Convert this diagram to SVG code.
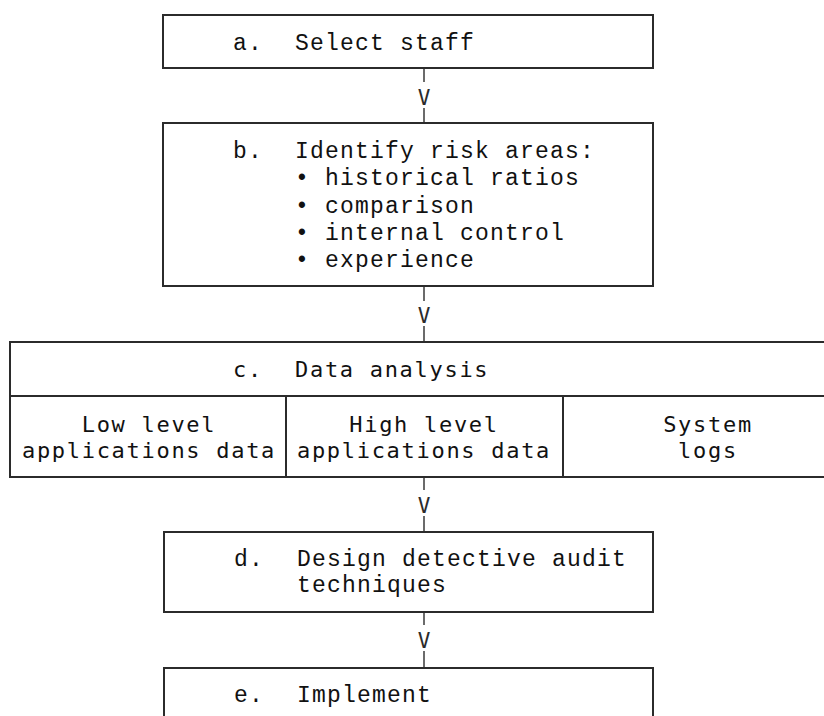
<svg xmlns="http://www.w3.org/2000/svg" width="824" height="716" viewBox="0 0 824 716">
  <style>
    .box { fill: #ffffff; stroke: #2b2b2b; stroke-width: 2; }
    .rule { stroke: #2b2b2b; stroke-width: 2; fill: none; }
    .link { stroke: #3a3a3a; stroke-width: 1.5; fill: none; }
    .t { font-family: "Liberation Mono", "DejaVu Sans Mono", monospace; font-size: 23px; letter-spacing: 1.2px; fill: #111111; }
    .s { font-family: "DejaVu Sans Mono", "Liberation Mono", monospace; font-size: 22px; letter-spacing: 1.7px; fill: #111111; }
    .mid { text-anchor: middle; }
    .arrow { font-family: "DejaVu Sans Mono", monospace; font-size: 21px; fill: #2b2b2b; text-anchor: middle; }
  </style>
  <rect width="824" height="716" fill="#ffffff"/>

  <!-- connectors: short rules with a typed V as the arrowhead -->
  <g id="connectors">
    <line class="link" x1="424" y1="68" x2="424" y2="82"/>
    <text class="arrow" x="424" y="105">V</text>
    <line class="link" x1="424" y1="108" x2="424" y2="123"/>

    <line class="link" x1="424" y1="286" x2="424" y2="301"/>
    <text class="arrow" x="424" y="323">V</text>
    <line class="link" x1="424" y1="326" x2="424" y2="342"/>

    <line class="link" x1="424" y1="477" x2="424" y2="490"/>
    <text class="arrow" x="424" y="513">V</text>
    <line class="link" x1="424" y1="516" x2="424" y2="532"/>

    <line class="link" x1="424" y1="612" x2="424" y2="625"/>
    <text class="arrow" x="424" y="648">V</text>
    <line class="link" x1="424" y1="651" x2="424" y2="668"/>
  </g>

  <!-- a. select staff -->
  <g id="node-a">
    <rect class="box" x="163" y="15" width="490" height="53"/>
    <text class="t" x="233" y="50">a.</text>
    <text class="t" x="295" y="50">Select staff</text>
  </g>

  <!-- b. risk areas -->
  <g id="node-b">
    <rect class="box" x="163" y="123" width="490" height="163"/>
    <text class="t" x="233" y="158">b.</text>
    <text class="t" x="295" y="158">Identify risk areas:</text>
    <text class="t" x="295" y="185">• historical ratios</text>
    <text class="t" x="295" y="213">• comparison</text>
    <text class="t" x="295" y="240">• internal control</text>
    <text class="t" x="295" y="267">• experience</text>
  </g>

  <!-- c. data analysis with three source columns -->
  <g id="node-c">
    <rect class="box" x="10" y="342" width="850" height="135"/>
    <line class="rule" x1="10" y1="396" x2="860" y2="396"/>
    <line class="rule" x1="286" y1="396" x2="286" y2="477"/>
    <line class="rule" x1="563" y1="396" x2="563" y2="477"/>
    <text class="s" x="233" y="377">c.</text>
    <text class="s" x="295" y="377">Data analysis</text>
    <text class="s mid" x="149" y="432">Low level</text>
    <text class="s mid" x="149" y="458">applications data</text>
    <text class="s mid" x="424" y="432">High level</text>
    <text class="s mid" x="424" y="458">applications data</text>
    <text class="s mid" x="708" y="432">System</text>
    <text class="s mid" x="708" y="458">logs</text>
  </g>

  <!-- d. detective audit techniques -->
  <g id="node-d">
    <rect class="box" x="164" y="532" width="489" height="80"/>
    <text class="t" x="234" y="566">d.</text>
    <text class="t" x="297" y="566">Design detective audit</text>
    <text class="t" x="297" y="592">techniques</text>
  </g>

  <!-- e. implement (runs past the bottom edge) -->
  <g id="node-e">
    <rect class="box" x="164" y="668" width="489" height="70"/>
    <text class="t" x="234" y="702">e.</text>
    <text class="t" x="297" y="702">Implement</text>
  </g>
</svg>
